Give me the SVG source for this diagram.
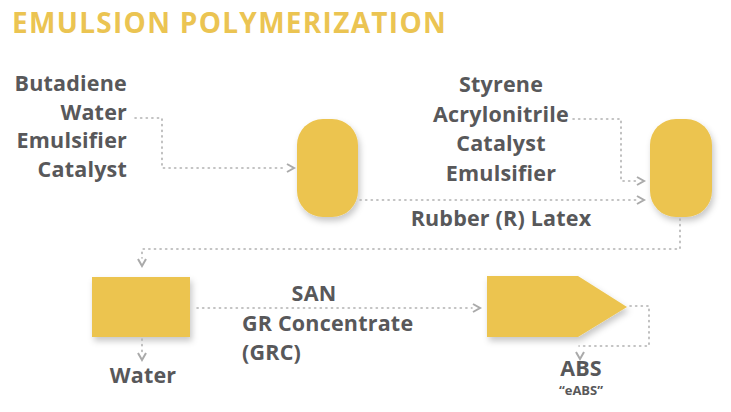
<svg xmlns="http://www.w3.org/2000/svg" width="731" height="412" viewBox="0 0 731 412">
<style>
.t{font-family:"Open Sans","Liberation Sans",sans-serif;font-weight:700;font-size:21.5px;letter-spacing:0.2px;fill:#58585a}
.title{font-family:"Open Sans","Liberation Sans",sans-serif;font-weight:700;font-size:28px;fill:#ebc452;letter-spacing:1.3px}
.node{fill:#ecc44f;filter:url(#sh)}
.dl{fill:none;stroke:#b0b0b0;stroke-width:1.6;stroke-dasharray:1.2 4.4;stroke-linecap:round}
.ah{fill:none;stroke:#aaaaaa;stroke-width:2}
</style>
<defs>
<filter id="sh" x="-20%" y="-20%" width="150%" height="150%">
<feDropShadow dx="2" dy="4" stdDeviation="3" flood-color="#000" flood-opacity="0.22"/>
</filter>
</defs>
<rect width="731" height="412" fill="#ffffff"/>
<text class="title" x="12" y="33">EMULSION POLYMERIZATION</text>

<g id="inputs1">
<text class="t" x="127" y="91" text-anchor="end">Butadiene</text>
<text class="t" x="127" y="120" text-anchor="end">Water</text>
<text class="t" x="127" y="148" text-anchor="end">Emulsifier</text>
<text class="t" x="127" y="177" text-anchor="end">Catalyst</text>
</g>
<g id="inputs2">
<text class="t" x="501" y="92" text-anchor="middle">Styrene</text>
<text class="t" x="501" y="122" text-anchor="middle">Acrylonitrile</text>
<text class="t" x="501" y="151" text-anchor="middle">Catalyst</text>
<text class="t" x="501" y="181" text-anchor="middle">Emulsifier</text>
</g>

<g id="reactor1"><rect class="node" x="297" y="119" width="61" height="98" rx="26"/></g>
<g id="reactor2"><rect class="node" x="650" y="119" width="62" height="98" rx="26"/></g>
<g id="separator"><rect class="node" x="92" y="277" width="98" height="60"/></g>
<g id="compounder"><polygon class="node" points="487,276 578,276 627,307 578,337 487,337"/></g>

<g id="connectors">
<path class="dl" d="M135,118 H162 V168 H286"/>
<path class="ah" d="M287,164 L294,168 L287,172"/>
<path class="dl" d="M360,200 H636"/>
<path class="ah" d="M637,196 L644,200 L637,204"/>
<path class="dl" d="M573,119 H621 V181 H636"/>
<path class="ah" d="M637,177 L644,181 L637,185"/>
<path class="dl" d="M680,219 V249 H142 V258"/>
<path class="ah" d="M138,259 L142,266 L146,259"/>
<path class="dl" d="M197,308 H472"/>
<path class="ah" d="M473,304 L480,308 L473,312"/>
<path class="dl" d="M142,339 V352"/>
<path class="ah" d="M138,353 L142,360 L146,353"/>
<path class="dl" d="M630,306 H649 V346 H579"/>
<path class="ah" d="M576,352 L580,359 L584,352"/>
</g>

<g id="labels">
<text class="t" x="501" y="226" text-anchor="middle">Rubber (R) Latex</text>
<text class="t" x="314" y="301" text-anchor="middle">SAN</text>
<text class="t" x="242" y="331">GR Concentrate</text>
<text class="t" x="242" y="360">(GRC)</text>
<text class="t" x="143" y="383" text-anchor="middle">Water</text>
<text class="t" x="581" y="376" text-anchor="middle">ABS</text>
<text class="t" x="581" y="395" text-anchor="middle" style="font-size:13px;letter-spacing:0">“eABS”</text>
</g>
</svg>
